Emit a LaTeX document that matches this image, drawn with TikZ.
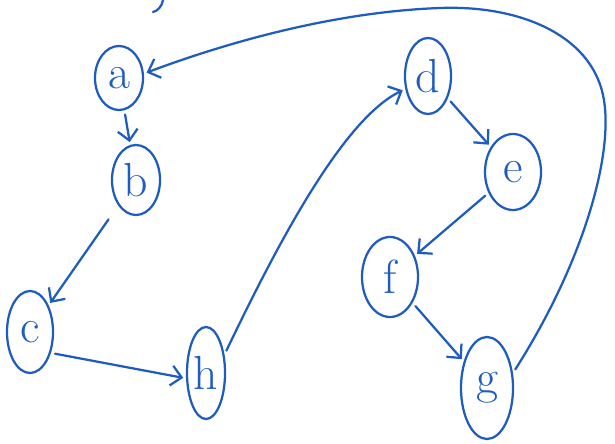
\documentclass[tikz,border=0pt]{standalone}
\usepackage{tikz}
\usetikzlibrary{arrows.meta,shapes.geometric}
\definecolor{inkblue}{HTML}{1F5CC0}
\tikzset{
  vtx/.style = {ellipse, draw=inkblue, line width=1.6pt, inner sep=0pt,
                text=inkblue, font=\fontsize{34}{34}\selectfont},
  edg/.style = {draw=inkblue, line width=1.6pt, line cap=round},
  arr/.style = {edg, -{Straight Barb[length=2.6mm,width=5mm]},
                shorten <=3pt, shorten >=2pt},
}
\begin{document}
\begin{tikzpicture}[x=0.025cm,y=-0.025cm]
  \useasboundingbox (0,0) rectangle (615,444);
  % left chain
  \node[vtx, minimum width=1.2cm,  minimum height=1.6cm]  (a) at (119,78)  {a};
  \node[vtx, minimum width=1.2cm,  minimum height=1.75cm] (b) at (136,180) {b};
  \node[vtx, minimum width=1.15cm, minimum height=2.05cm] (c) at (30,332)  {c};
  \node[vtx, minimum width=0.95cm, minimum height=2.3cm]  (h) at (206,373) {h};
  % right chain
  \node[vtx, minimum width=1.15cm, minimum height=1.9cm]  (d) at (428,76)  {d};
  \node[vtx, minimum width=1.4cm,  minimum height=1.9cm]  (e) at (513,172) {e};
  \node[vtx, minimum width=1.4cm,  minimum height=2.0cm]  (f) at (390,277) {f};
  \node[vtx, minimum width=1.3cm,  minimum height=2.55cm] (g) at (487,388) {g};

  \draw[arr] (a) -- (b);
  \draw[arr, shorten <=12pt] (b) -- (c);
  \draw[arr] (c.-45) -- (h.195);
  \draw[arr] (h.45) .. controls (270,260) and (340,120) .. (d.210);
  \draw[arr] (d) -- (e);
  \draw[arr] (e) -- (f);
  \draw[arr] (f) -- (g);
  \draw[arr] (g.30) .. controls (585,260) and (615,150) .. (603,95)
             .. controls (590,35) and (520,5) .. (440,8)
             .. controls (330,12) and (220,45) .. (a.10);
  % stray stroke at the top
  \draw[edg] (163,0) .. controls (162,6) and (158,11) .. (153,12);
\end{tikzpicture}
\end{document}
